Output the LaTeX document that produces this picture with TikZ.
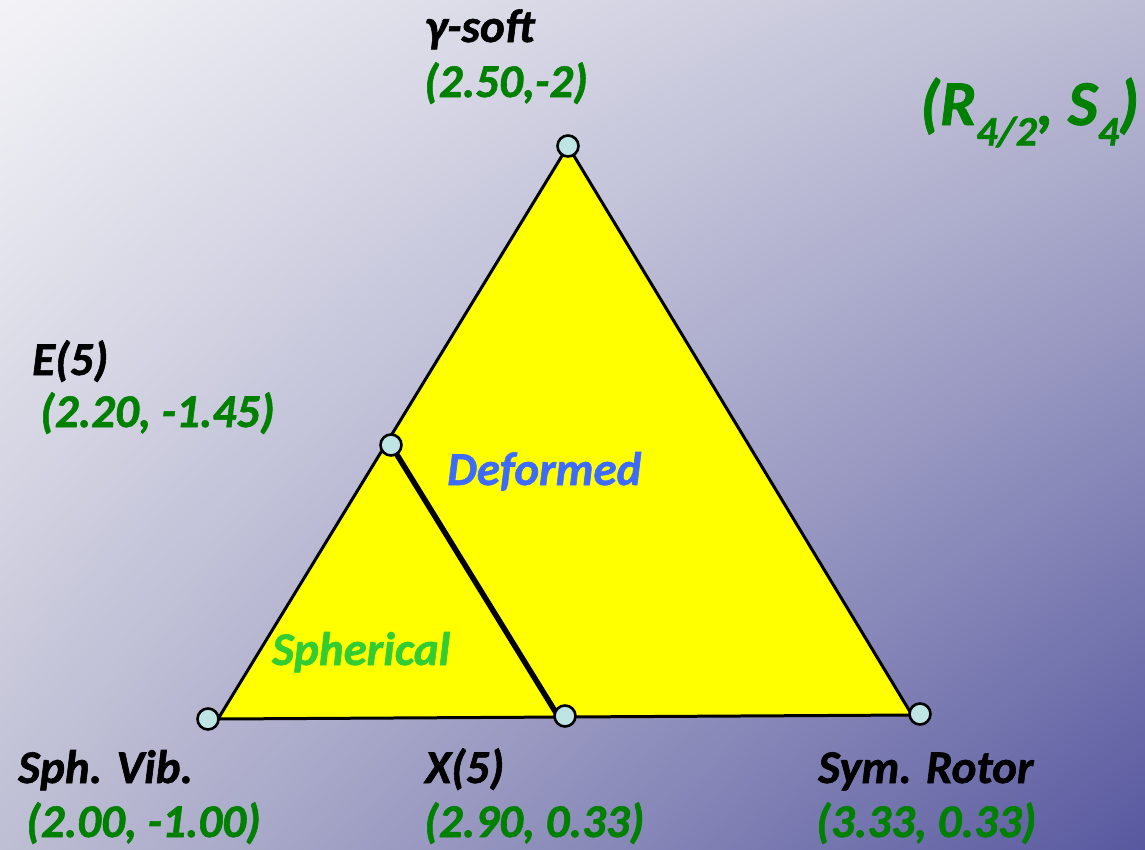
\documentclass[tikz,border=0pt]{standalone}
\usepackage{fontspec}
\usetikzlibrary{shadings}
\setmainfont{Carlito}[BoldItalicFeatures={FakeBold=1.2}]
\definecolor{bgTL}{RGB}{243,243,247}
\definecolor{bgTR}{RGB}{188,188,212}
\definecolor{bgBL}{RGB}{190,190,212}
\definecolor{bgBR}{RGB}{88,88,160}
\definecolor{vtx}{RGB}{190,228,228}
\definecolor{dgreen}{RGB}{0,128,0}
\definecolor{lgreen}{RGB}{50,205,50}
\definecolor{dblue}{RGB}{61,107,255}
\definecolor{tyellow}{RGB}{255,255,0}
\newcommand{\subtxt}[1]{\raisebox{-0.32em}{\fontsize{42}{46}\selectfont #1}}
\tikzset{
  lbl/.style={anchor=base west, inner sep=0pt, font=\fontsize{47}{52}\selectfont\bfseries\itshape},
  namelbl/.style={lbl, text=black},
  coordlbl/.style={lbl, text=dgreen},
  vertex/.style={circle, draw=black, line width=2.6pt, fill=vtx, minimum size=21pt, inner sep=0pt},
}
\begin{document}
\begin{tikzpicture}[x=1pt,y=-1pt]
\useasboundingbox (0,0) rectangle (1145,849);
\shade[upper left=bgTL, upper right=bgTR, lower left=bgBL, lower right=bgBR] (0,0) rectangle (1145,849);
% triangle corners
\coordinate (T) at (568,146);
\coordinate (L) at (218,719);
\coordinate (R) at (912,715);
\coordinate (Ec) at (391,445);
\coordinate (Xc) at (558,716);
\filldraw[fill=tyellow, draw=black, line width=3pt, line join=miter] (T) -- (L) -- (R) -- cycle;
\draw[line width=5.5pt] (Ec) -- (Xc);
% vertices
\node[vertex] (vtop) at (568,146) {};
\node[vertex] (ve5) at (391,445) {};
\node[vertex] (vsph) at (208,719) {};
\node[vertex] (vx5) at (565,716) {};
\node[vertex] (vrot) at (920,714) {};
% labels
\node[namelbl] (gs) at (425,42) {γ-soft};
\node[coordlbl] (gsc) at (424,97) {(2.50,-2)};
\node[coordlbl, font=\fontsize{64}{70}\selectfont\bfseries\itshape] (rs) at (920,125) {(R\subtxt{4/2}, S\subtxt{4})};
\node[namelbl] (e5) at (32,375) {E(5)};
\node[coordlbl] (e5c) at (40,427) {(2.20, -1.45)};
\node[lbl, text=dblue] (def) at (447,485) {Deformed};
\node[lbl, text=lgreen] (sph) at (272,665) {Spherical};
\node[namelbl] (sv) at (18,783) {Sph. Vib.};
\node[coordlbl] (svc) at (26,837) {(2.00, -1.00)};
\node[namelbl] (x5) at (425,783) {X(5)};
\node[coordlbl] (x5c) at (424,837) {(2.90, 0.33)};
\node[namelbl] (sr) at (818,783) {Sym. Rotor};
\node[coordlbl] (src) at (816,837) {(3.33, 0.33)};
\end{tikzpicture}
\end{document}
